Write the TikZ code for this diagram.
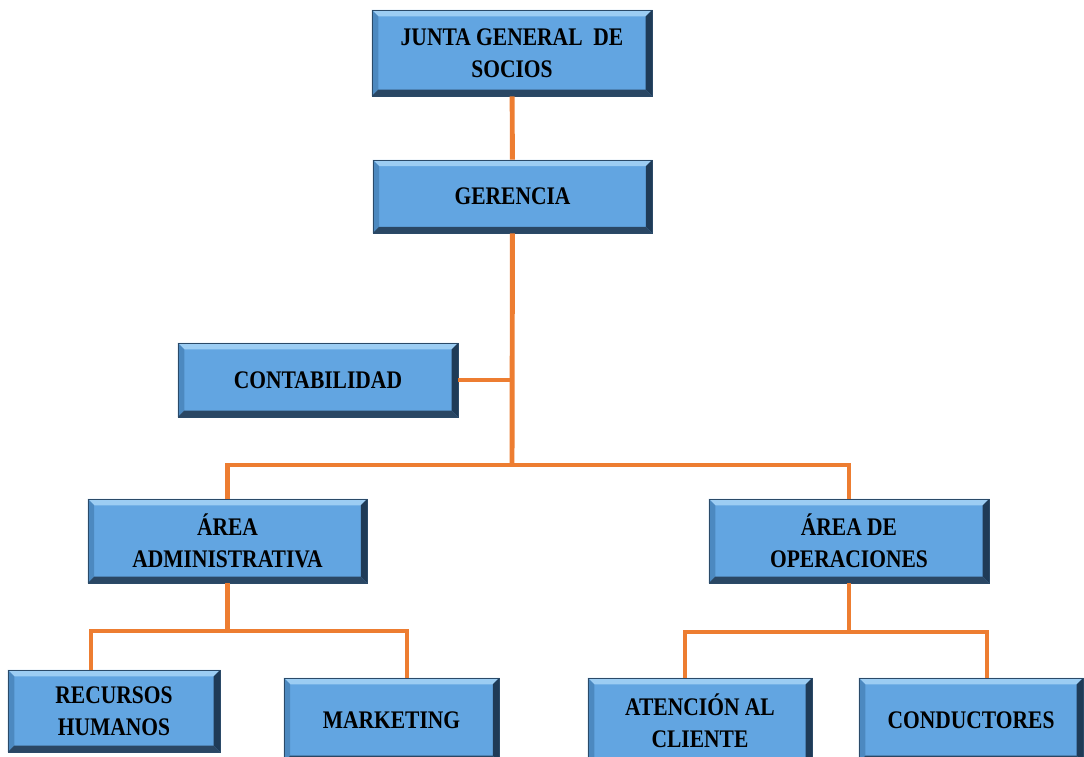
\documentclass[tikz,border=0pt]{standalone}
\usepackage{fontspec}
\newfontfamily\boxfont{Liberation Serif}[FakeStretch=0.85]
\usetikzlibrary{calc}

\definecolor{boxface}{HTML}{62A5E1}
\definecolor{boxedge}{HTML}{2B4A68}
\definecolor{bevtop}{HTML}{9CCDF3}
\definecolor{bevleft}{HTML}{4C89C0}
\definecolor{bevright}{HTML}{1F3B57}
\definecolor{bevbot}{HTML}{2A4764}
\definecolor{linkorange}{HTML}{ED7D31}

\def\bev{4.5pt}

\tikzset{
  link/.style={draw=linkorange, line width=3.5pt},
  orgbox/.style={draw=boxedge, line width=0.5pt, fill=boxface,
    inner sep=0pt, align=center,
    font=\boxfont\bfseries\fontsize{18}{23}\selectfont,
    path picture={
      % bevelled edges
      \fill[bevtop] (path picture bounding box.north west)
        -- (path picture bounding box.north east)
        -- ([xshift=-\bev,yshift=-\bev]path picture bounding box.north east)
        -- ([xshift=\bev,yshift=-\bev]path picture bounding box.north west) -- cycle;
      \fill[bevleft] (path picture bounding box.north west)
        -- ([xshift=\bev,yshift=-\bev]path picture bounding box.north west)
        -- ([xshift=\bev,yshift=\bev]path picture bounding box.south west)
        -- (path picture bounding box.south west) -- cycle;
      \fill[bevright] (path picture bounding box.north east)
        -- ([xshift=-\bev,yshift=-\bev]path picture bounding box.north east)
        -- ([xshift=-\bev,yshift=\bev]path picture bounding box.south east)
        -- (path picture bounding box.south east) -- cycle;
      \fill[bevbot] (path picture bounding box.south west)
        -- ([xshift=\bev,yshift=\bev]path picture bounding box.south west)
        -- ([xshift=-\bev,yshift=\bev]path picture bounding box.south east)
        -- (path picture bounding box.south east) -- cycle;
    }}
}

\begin{document}
\begin{tikzpicture}[x=0.025cm,y=-0.025cm]

% white background
\fill[white] (0,0) rectangle (1084,756);
\useasboundingbox (0,0) rectangle (1084,756);

% top of the chart
\node[orgbox, minimum width=7cm, minimum height=2.15cm] (junta) at (512,53)
  {JUNTA GENERAL\ \ DE\\SOCIOS};
\node[orgbox, minimum width=6.98cm, minimum height=1.83cm] (gerencia) at (512.5,196.5)
  {GERENCIA};
\node[orgbox, minimum width=7cm, minimum height=1.85cm] (contab) at (318,380)
  {CONTABILIDAD};

% areas
\node[orgbox, minimum width=6.98cm, minimum height=2.1cm] (admin) at (227.5,541)
  {ÁREA\\ADMINISTRATIVA};
\node[orgbox, minimum width=7cm, minimum height=2.1cm] (oper) at (849,541)
  {ÁREA DE\\OPERACIONES};

% bottom row
\node[orgbox, minimum width=5.3cm, minimum height=2.05cm] (rrhh) at (114,711)
  {RECURSOS\\HUMANOS};
\node[orgbox, minimum width=5.38cm, minimum height=2.1cm] (mkt) at (391.5,720)
  {MARKETING};
\node[orgbox, minimum width=5.6cm, minimum height=2.15cm] (atencion) at (700,721)
  {ATENCIÓN AL\\CLIENTE};
\node[orgbox, minimum width=5.6cm, minimum height=2.1cm] (cond) at (971,720)
  {CONDUCTORES};

% branching points
\coordinate (split1) at (512,465);
\coordinate (split2) at (admin |- 0,631);
\coordinate (split3) at (oper |- 0,632);
\coordinate (rrhhtop) at (91,670);
\coordinate (mkttop) at (407,678);
\coordinate (atentop) at (685,678);
\coordinate (condtop) at (987,678);

% connectors
\draw[link] (junta) -- (gerencia);
\draw[link] (gerencia) -- (split1);
\draw[link] (contab) -- (contab -| split1);
\draw[link] (split1) -| (admin);
\draw[link] (split1) -| (oper);

\draw[link] (admin) -- (split2);
\draw[link] (split2) -| (rrhhtop);
\draw[link] (split2) -| (mkttop);

\draw[link] (oper) -- (split3);
\draw[link] (split3) -| (atentop);
\draw[link] (split3) -| (condtop);

\end{tikzpicture}
\end{document}
